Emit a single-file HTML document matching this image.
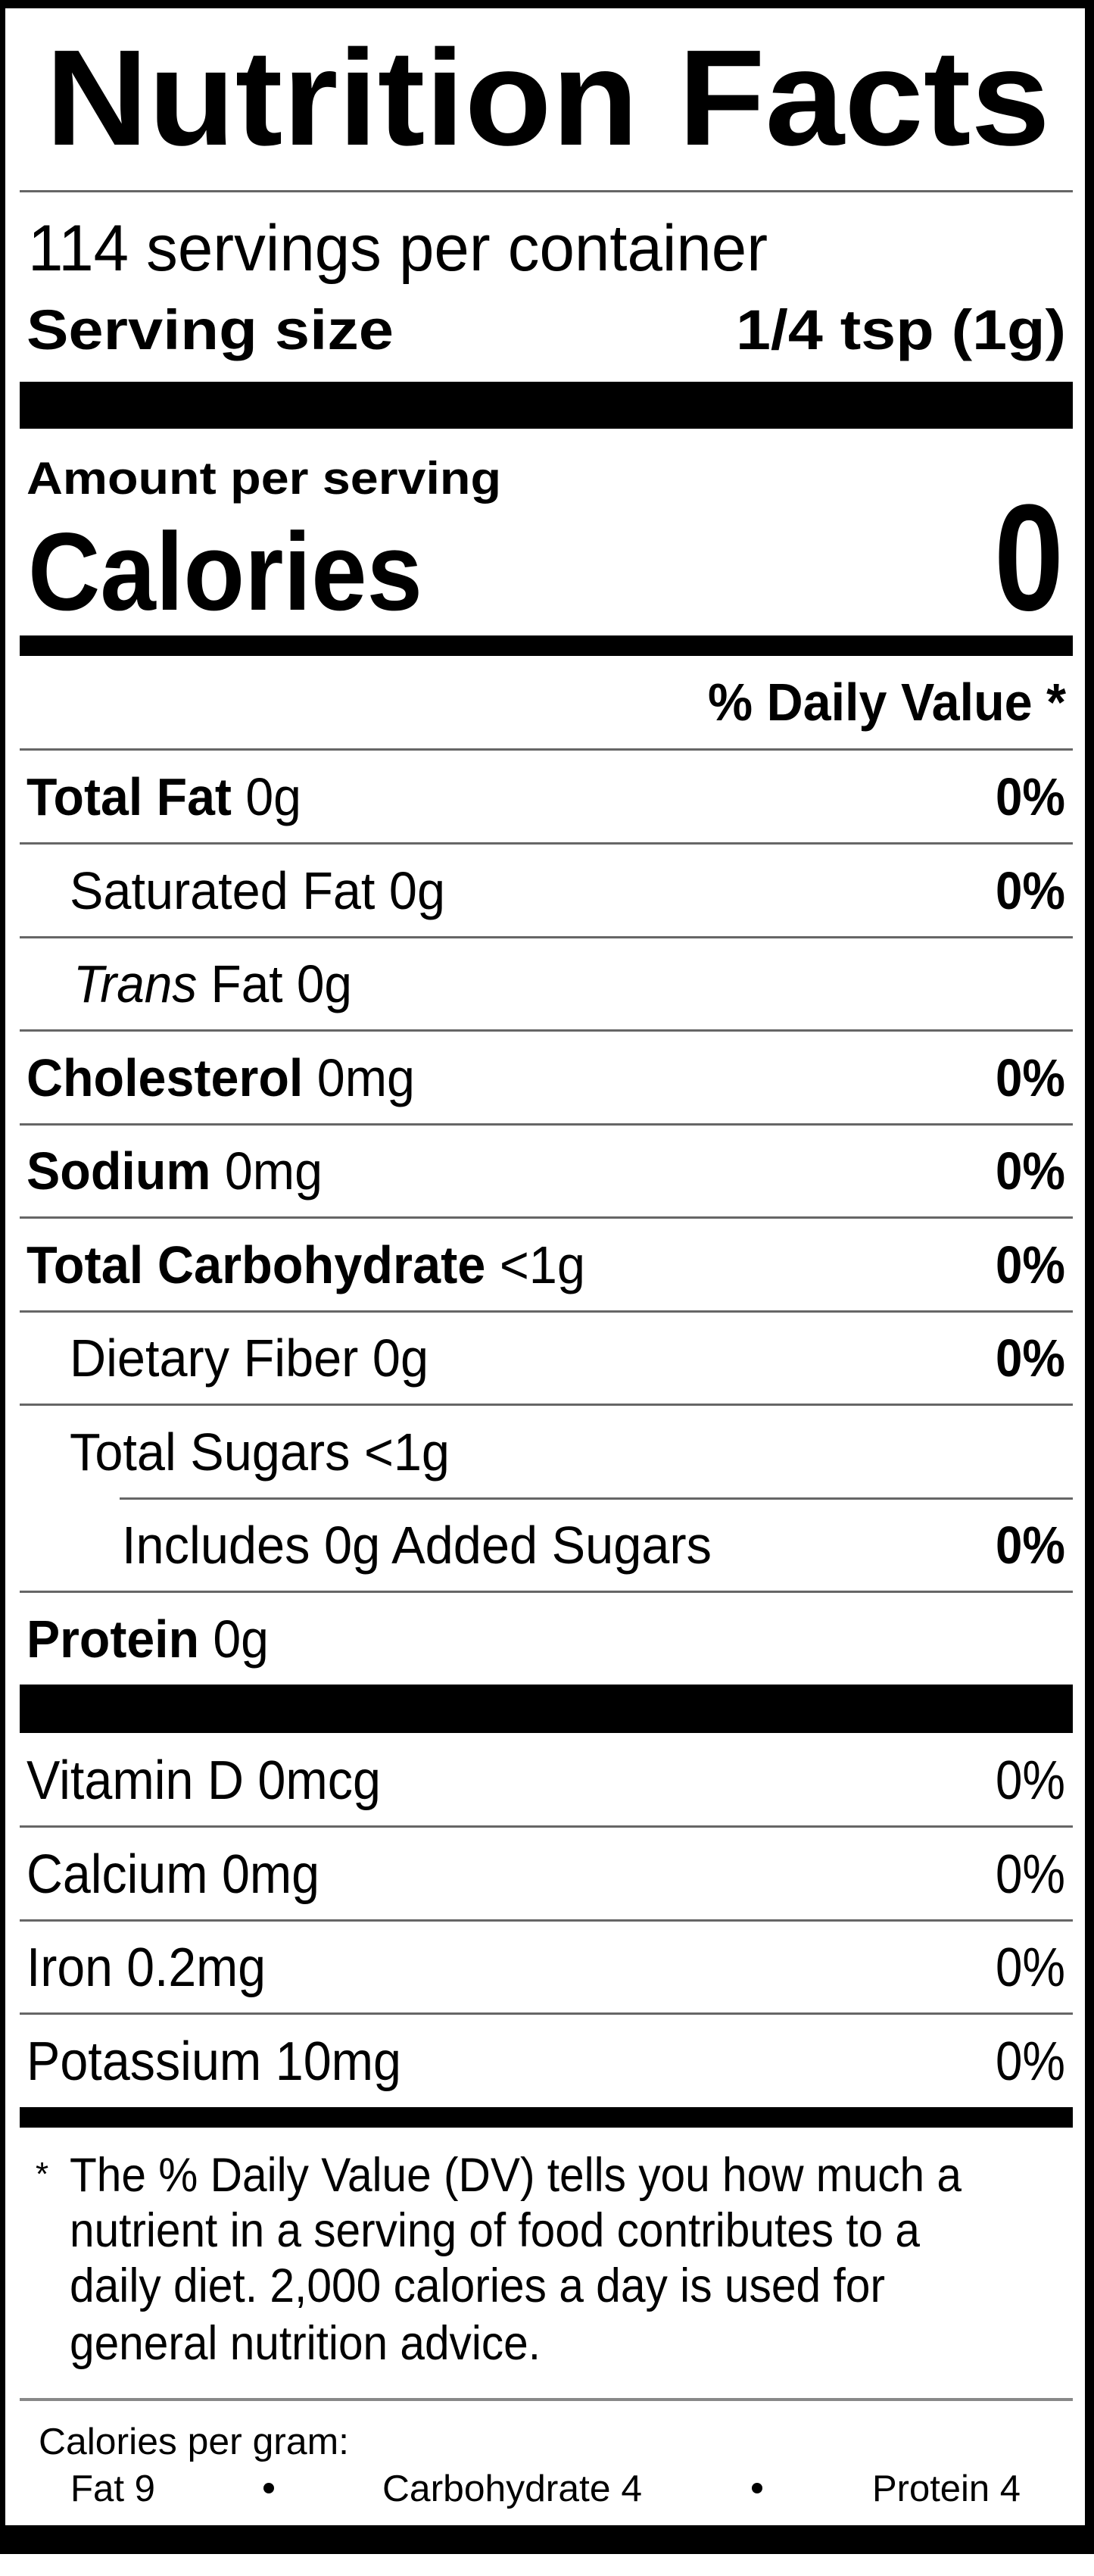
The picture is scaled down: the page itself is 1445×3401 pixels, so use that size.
<!DOCTYPE html>
<html><head><meta charset="utf-8"><style>
html,body{margin:0;padding:0;background:#fff;}
svg{display:block;}
text{font-family:"Liberation Sans",Arial,sans-serif;fill:#000;}
.b{font-weight:bold;}
</style></head><body>
<svg width="1445" height="3401" viewBox="0 0 1445 3401" xmlns="http://www.w3.org/2000/svg">
<rect x="0" y="0" width="1445" height="3401" fill="#fff"/>
<!-- frame -->
<rect x="0" y="0" width="1445" height="11" fill="#000"/>
<rect x="0" y="0" width="7" height="3372" fill="#000"/>
<rect x="1433" y="0" width="12" height="3372" fill="#000"/>
<rect x="0" y="3334" width="1445" height="38" fill="#000"/>

<text x="60" y="191" class="b" font-size="180" textLength="1327" lengthAdjust="spacingAndGlyphs">Nutrition Facts</text>
<rect x="26" y="251" width="1391" height="3" fill="#666"/>
<text x="37" y="357" font-size="86" textLength="977" lengthAdjust="spacingAndGlyphs">114 servings per container</text>
<text x="35" y="461" class="b" font-size="74" textLength="485" lengthAdjust="spacingAndGlyphs">Serving size</text>
<text x="1408" y="461" class="b" font-size="74" text-anchor="end" textLength="436" lengthAdjust="spacingAndGlyphs">1/4 tsp (1g)</text>
<rect x="26" y="504" width="1391" height="62" fill="#000"/>
<text x="35" y="652" class="b" font-size="60" textLength="627" lengthAdjust="spacingAndGlyphs">Amount per serving</text>
<text x="37" y="805" class="b" font-size="146" textLength="521" lengthAdjust="spacingAndGlyphs">Calories</text>
<text x="1405" y="805" class="b" font-size="200" text-anchor="end" textLength="92" lengthAdjust="spacingAndGlyphs">0</text>
<rect x="26" y="839" width="1391" height="27" fill="#000"/>
<text x="1408" y="951" class="b" font-size="70" text-anchor="end" textLength="473" lengthAdjust="spacingAndGlyphs">% Daily Value *</text>
<rect x="26" y="988" width="1391" height="3" fill="#666"/>

<g font-size="70">
<text x="35" y="1076" textLength="363" lengthAdjust="spacingAndGlyphs"><tspan class="b">Total Fat</tspan> 0g</text>
<text x="1407" y="1076" class="b" text-anchor="end" textLength="92" lengthAdjust="spacingAndGlyphs">0%</text>
<rect x="26" y="1112" width="1391" height="3" fill="#666"/>
<text x="92" y="1200" textLength="496" lengthAdjust="spacingAndGlyphs">Saturated Fat 0g</text>
<text x="1407" y="1200" class="b" text-anchor="end" textLength="92" lengthAdjust="spacingAndGlyphs">0%</text>
<rect x="26" y="1236" width="1391" height="3" fill="#666"/>
<text x="97" y="1323" textLength="368" lengthAdjust="spacingAndGlyphs"><tspan font-style="italic">Trans</tspan> Fat 0g</text>
<rect x="26" y="1359" width="1391" height="3" fill="#666"/>
<text x="35" y="1447" textLength="513" lengthAdjust="spacingAndGlyphs"><tspan class="b">Cholesterol</tspan> 0mg</text>
<text x="1407" y="1447" class="b" text-anchor="end" textLength="92" lengthAdjust="spacingAndGlyphs">0%</text>
<rect x="26" y="1483" width="1391" height="3" fill="#666"/>
<text x="35" y="1570" textLength="391" lengthAdjust="spacingAndGlyphs"><tspan class="b">Sodium</tspan> 0mg</text>
<text x="1407" y="1570" class="b" text-anchor="end" textLength="92" lengthAdjust="spacingAndGlyphs">0%</text>
<rect x="26" y="1606" width="1391" height="3" fill="#666"/>
<text x="35" y="1694" textLength="738" lengthAdjust="spacingAndGlyphs"><tspan class="b">Total Carbohydrate</tspan> &lt;1g</text>
<text x="1407" y="1694" class="b" text-anchor="end" textLength="92" lengthAdjust="spacingAndGlyphs">0%</text>
<rect x="26" y="1730" width="1391" height="3" fill="#666"/>
<text x="92" y="1817" textLength="474" lengthAdjust="spacingAndGlyphs">Dietary Fiber 0g</text>
<text x="1407" y="1817" class="b" text-anchor="end" textLength="92" lengthAdjust="spacingAndGlyphs">0%</text>
<rect x="26" y="1853" width="1391" height="3" fill="#666"/>
<text x="92" y="1941" textLength="502" lengthAdjust="spacingAndGlyphs">Total Sugars &lt;1g</text>
<rect x="158" y="1977" width="1259" height="3" fill="#666"/>
<text x="161" y="2064" textLength="779" lengthAdjust="spacingAndGlyphs">Includes 0g Added Sugars</text>
<text x="1407" y="2064" class="b" text-anchor="end" textLength="92" lengthAdjust="spacingAndGlyphs">0%</text>
<rect x="26" y="2100" width="1391" height="3" fill="#666"/>
<text x="35" y="2188" textLength="320" lengthAdjust="spacingAndGlyphs"><tspan class="b">Protein</tspan> 0g</text>
</g>
<rect x="26" y="2224" width="1391" height="64" fill="#000"/>

<g font-size="72">
<text x="35" y="2375" textLength="468" lengthAdjust="spacingAndGlyphs">Vitamin D 0mcg</text>
<text x="1407" y="2375" text-anchor="end" textLength="92" lengthAdjust="spacingAndGlyphs">0%</text>
<rect x="26" y="2410" width="1391" height="3" fill="#666"/>
<text x="35" y="2499" textLength="387" lengthAdjust="spacingAndGlyphs">Calcium 0mg</text>
<text x="1407" y="2499" text-anchor="end" textLength="92" lengthAdjust="spacingAndGlyphs">0%</text>
<rect x="26" y="2534" width="1391" height="3" fill="#666"/>
<text x="35" y="2622" textLength="316" lengthAdjust="spacingAndGlyphs">Iron 0.2mg</text>
<text x="1407" y="2622" text-anchor="end" textLength="92" lengthAdjust="spacingAndGlyphs">0%</text>
<rect x="26" y="2657" width="1391" height="3" fill="#666"/>
<text x="35" y="2746" textLength="495" lengthAdjust="spacingAndGlyphs">Potassium 10mg</text>
<text x="1407" y="2746" text-anchor="end" textLength="92" lengthAdjust="spacingAndGlyphs">0%</text>
</g>
<rect x="26" y="2782" width="1391" height="27" fill="#000"/>

<g font-size="63">
<text x="47" y="2885" font-size="44">*</text>
<text x="92" y="2893" textLength="1178" lengthAdjust="spacingAndGlyphs">The % Daily Value (DV) tells you how much a</text>
<text x="92" y="2966" textLength="1123" lengthAdjust="spacingAndGlyphs">nutrient in a serving of food contributes to a</text>
<text x="92" y="3039" textLength="1077" lengthAdjust="spacingAndGlyphs">daily diet. 2,000 calories a day is used for</text>
<text x="92" y="3115" textLength="622" lengthAdjust="spacingAndGlyphs">general nutrition advice.</text>
</g>
<rect x="26" y="3166" width="1391" height="4" fill="#888"/>
<g font-size="49">
<text x="51" y="3240" textLength="410" lengthAdjust="spacingAndGlyphs">Calories per gram:</text>
<text x="93" y="3302" textLength="112" lengthAdjust="spacingAndGlyphs">Fat 9</text>
<circle cx="355" cy="3285" r="7" fill="#000"/>
<text x="505" y="3302" textLength="343" lengthAdjust="spacingAndGlyphs">Carbohydrate 4</text>
<circle cx="1000" cy="3285" r="7" fill="#000"/>
<text x="1152" y="3302" textLength="196" lengthAdjust="spacingAndGlyphs">Protein 4</text>
</g>
</svg>
</body></html>
